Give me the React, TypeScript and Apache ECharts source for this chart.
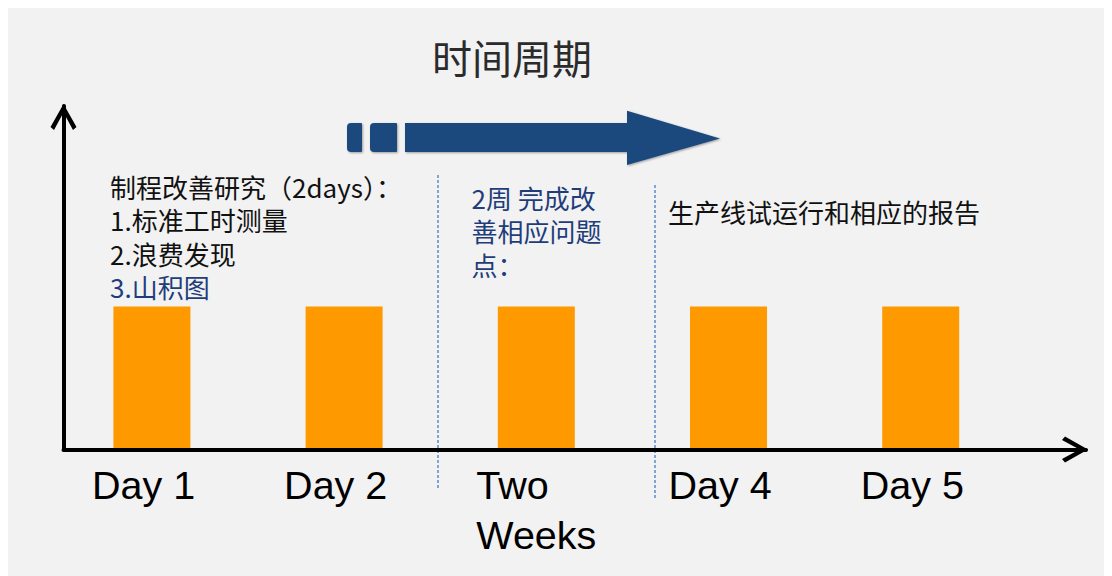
import React, { useEffect, useRef } from "react";
import * as echarts from "echarts";

// ---- data ----
const categoryPositions = [1, 2, 3, 4, 5];
const categoryLabels = [["Day 1"], ["Day 2"], ["Two", "Weeks"], ["Day 4"], ["Day 5"]];
const barValues = [5, 5, 5, 5, 5];
const titleText = "时间周期";
const noteDaysLines = ["制程改善研究（2days）：", "1.标准工时测量", "2.浪费发现", "3.山积图"];
const noteDaysColors = ["#111111", "#111111", "#111111", "#1F3D7A"];
const noteWeeksLines = ["2周 完成改", "善相应问题", "点："];
const noteTrialLines = ["生产线试运行和相应的报告"];

const CJK = '"Noto Sans CJK SC", "Noto Sans", sans-serif';
const LATIN = '"Liberation Sans", Arial, sans-serif';
const ARROW = "path://M13 0L26 23L22.5 26L13 8.5L3.5 26L0 23Z";

export default function App() {
  const ref = useRef<HTMLDivElement>(null);

  useEffect(() => {
    document.documentElement.style.overflow = "hidden";
    document.body.style.overflow = "hidden";
    const chart = echarts.init(ref.current!, null, { renderer: "svg" });

    const textLines = (lines: string[], x: number, y0: number, step: number, colors: string[] | string) =>
      lines.map((t, i) => ({
        type: "text",
        x,
        y: y0 + i * step,
        z: 10,
        style: {
          text: t,
          fill: Array.isArray(colors) ? colors[i] : colors,
          font: `26px ${CJK}`,
          lineHeight: 28,
          textAlign: "left",
          textVerticalAlign: "middle",
        },
      }));

    const arrowColor = "#1F497D";
    const shadow = {
      shadowColor: "rgba(0,0,0,0.35)",
      shadowBlur: 2,
      shadowOffsetX: 1,
      shadowOffsetY: 1,
    };

    chart.setOption({
      animation: false,
      backgroundColor: "#f2f2f2",
      grid: { left: 55.5, right: 26, top: 98, bottom: 126.5, containLabel: false, outerBoundsMode: "none" },
      xAxis: {
        type: "value",
        min: 0.54,
        max: 5.86,
        z: 3,
        splitLine: { show: false },
        axisTick: { show: false },
        axisLine: {
          show: true,
          lineStyle: { color: "#000", width: 4 },
          symbol: ["none", ARROW],
          symbolSize: [26, 26],
          symbolOffset: [0, -11],
        },
        axisLabel: {
          show: true,
          customValues: categoryPositions,
          margin: 10,
          formatter: (v: number) => {
            const i = categoryPositions.indexOf(Math.round(v));
            return (categoryLabels[i] || []).map((s) => `{a|${s}}`).join("\n");
          },
          rich: {
            a: {
              width: 120,
              align: "left",
              fontSize: 39.5,
              lineHeight: 50,
              fontFamily: LATIN,
              color: "#000",
            },
          },
        },
      },
      yAxis: {
        type: "value",
        min: 0,
        max: 12,
        z: 3,
        splitLine: { show: false },
        axisTick: { show: false },
        axisLabel: { show: false },
        axisLine: {
          show: true,
          lineStyle: { color: "#000", width: 4 },
          symbol: ["none", ARROW],
          symbolSize: [26, 26],
          symbolOffset: [0, -11],
        },
      },
      series: [
        {
          type: "bar",
          data: categoryPositions.map((p, i) => [p, barValues[i]]),
          barWidth: 77,
          itemStyle: { color: "#FF9900" },
          z: 2,
        },
      ],
      graphic: [
        {
          type: "text",
          x: 504,
          y: 49,
          style: {
            text: titleText,
            fill: "#2b2b2b",
            font: `40px ${CJK}`,
            textAlign: "center",
            textVerticalAlign: "middle",
          },
        },
        { type: "rect", shape: { x: 339, y: 115, width: 15, height: 29, r: [4, 1, 1, 4] }, style: { fill: arrowColor, ...shadow } },
        { type: "rect", shape: { x: 362, y: 115, width: 27, height: 29, r: [4, 1, 1, 4] }, style: { fill: arrowColor, ...shadow } },
        {
          type: "polygon",
          shape: {
            points: [
              [397, 115],
              [619, 115],
              [619, 102.7],
              [712, 130.5],
              [619, 157],
              [619, 144],
              [397, 144],
            ],
          },
          style: { fill: arrowColor, ...shadow },
        },
        {
          type: "line",
          shape: { x1: 430, y1: 167, x2: 430, y2: 482 },
          style: { stroke: "#5B8BD0", lineWidth: 1.5, lineDash: [3, 2] },
        },
        {
          type: "line",
          shape: { x1: 647, y1: 177, x2: 647, y2: 492 },
          style: { stroke: "#5B8BD0", lineWidth: 1.5, lineDash: [3, 2] },
        },
        ...textLines(noteDaysLines, 102, 178, 33.6, noteDaysColors),
        ...textLines(noteWeeksLines, 463.5, 189, 33.7, "#1F3D7A"),
        ...textLines(noteTrialLines, 660, 203.5, 32, "#111111"),
      ],
    } as any);

    return () => chart.dispose();
  }, []);

  return <div ref={ref} style={{ width: 1104, height: 568 }} />;
}
